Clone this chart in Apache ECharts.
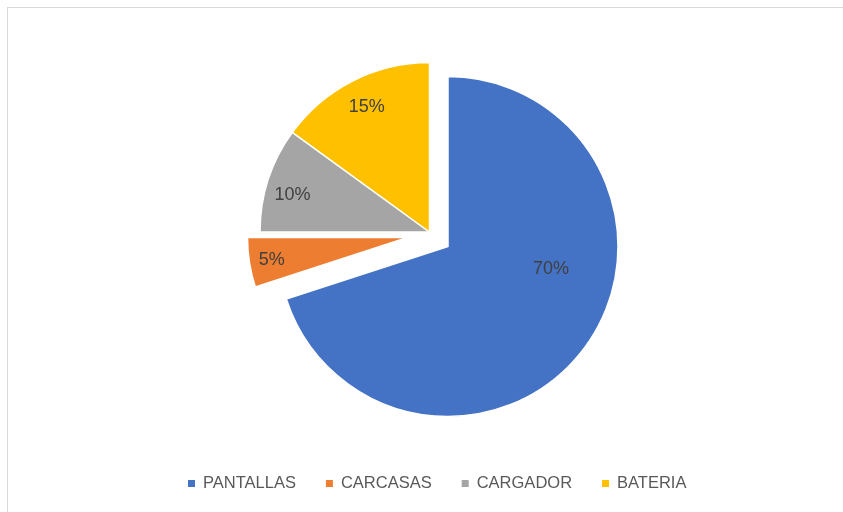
<!DOCTYPE html>
<html><head><meta charset="utf-8">
<script src="https://cdn.jsdelivr.net/npm/echarts@6/dist/echarts.min.js"></script>
<style>
html,body{margin:0;padding:0;background:#fff;overflow:hidden;}
#frame{position:absolute;left:7px;top:7px;width:900px;height:600px;border-left:1px solid #d9d9d9;border-top:1px solid #d9d9d9;}
#main{position:absolute;left:0;top:0;width:843px;height:512px;}
</style></head><body>
<div id="frame"></div><div id="main"></div>
<script>
const categories = ['PANTALLAS', 'CARCASAS', 'CARGADOR', 'BATERIA'];
const values = [70, 5, 10, 15];
const colors = ['#4472C4', '#ED7D31', '#A5A5A5', '#FFC000'];

// slices that were pulled out together share a centre
const groups = [
  { members: [0], center: [448, 246.5], radius: 170 },
  { members: [2, 3], center: [429.5, 232], radius: 169.5 },
  { members: [1], center: [407.5, 237.5], radius: 160 }
];
// label nudges from the default inside position
const labelShift = [[31.8, -29.5], [-53.7, 9.2], [-53.5, -9.4], [-23, -46.8]];
const FONT = '"Liberation Sans", Arial, sans-serif';

const chart = echarts.init(document.getElementById('main'), null, { renderer: 'canvas' });
chart.setOption({
  animation: false,
  backgroundColor: 'transparent',
  legend: {
    left: 183, top: 470, icon: 'rect', itemWidth: 7, itemHeight: 7, itemGap: 30,
    selectedMode: false,
    textStyle: { color: '#595959', fontSize: 16.5, fontFamily: FONT, padding: [0, 0, 0, 3] },
    data: categories.map((n, i) => ({ name: n, itemStyle: { color: colors[i], opacity: 1, borderWidth: 0 } }))
  },
  series: groups.map(g => ({
    type: 'pie',
    center: g.center,
    radius: g.radius,
    startAngle: 90,
    clockwise: true,
    silent: true,
    avoidLabelOverlap: false,
    label: { show: true, position: 'inside', formatter: '{d}%', color: '#404040', fontSize: 18, fontFamily: FONT },
    labelLine: { show: false },
    labelLayout: p => ({ dx: labelShift[p.dataIndex][0], dy: labelShift[p.dataIndex][1] }),
    emphasis: { disabled: true },
    data: categories.map((name, i) => {
      const on = g.members.includes(i);
      return {
        name: name,
        value: values[i],
        itemStyle: { color: colors[i], opacity: on ? 1 : 0, borderColor: '#fff', borderWidth: on ? 1.5 : 0 },
        label: { show: on }
      };
    })
  }))
});
</script>
</body></html>
